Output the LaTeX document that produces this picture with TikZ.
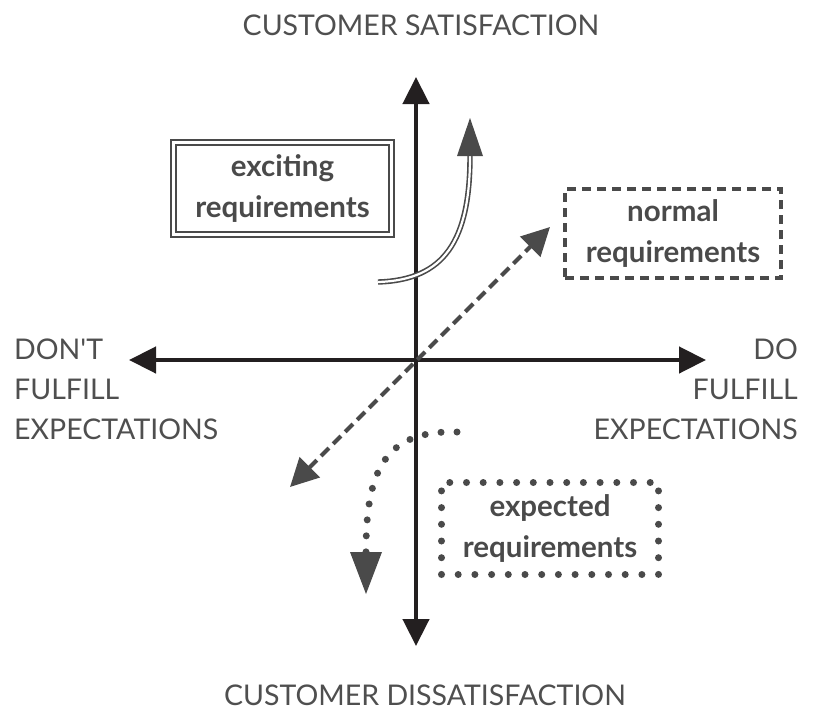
\documentclass[tikz,border=0pt]{standalone}
\usepackage{fontspec}
\setmainfont{Lato}
\usetikzlibrary{arrows.meta}
\definecolor{axiscol}{HTML}{231F20}
\definecolor{ink}{HTML}{4A4A4A}
\definecolor{txt}{HTML}{4F4F4F}
\begin{document}
\begin{tikzpicture}[x=1pt,y=-1pt,
  axisline/.style={draw=axiscol,line width=4.5pt,{Triangle[length=27pt,width=26pt]}-{Triangle[length=27pt,width=26pt]}},
  axislabel/.style={text=txt,font=\fontsize{28.5}{40}\selectfont,inner sep=0pt},
  boxtext/.style={text=ink,font=\bfseries\fontsize{29.5}{41}\selectfont,align=center},
  excitebox/.style={draw=ink,line width=2.2pt,double=white,double distance=2.5pt,minimum width=218pt,minimum height=92pt,boxtext},
  normalbox/.style={draw=ink,line width=4pt,dash pattern=on 9pt off 6pt,minimum width=216pt,minimum height=89pt,boxtext},
  expectbox/.style={draw=ink,line width=7pt,line cap=round,dash pattern=on 0pt off 16.7pt,minimum width=217pt,minimum height=92pt,boxtext},
]
\useasboundingbox (0,0) rectangle (817,718);
\coordinate (O) at (416,360);
\coordinate (top) at (416,77);
\coordinate (bot) at (416,646);
\coordinate (lft) at (129,360);
\coordinate (rgt) at (706,360);
\draw[axisline] (bot) -- (top);
\draw[axisline] (lft) -- (rgt);

\node[axislabel] (sat) at (421,25) {CUSTOMER SATISFACTION};
\node[axislabel] (dis) at (425,695) {CUSTOMER DISSATISFACTION};
\node[axislabel,align=left,anchor=north west] (dont) at (14,339) {DON\textquotesingle T\\FULFILL\\EXPECTATIONS};
\node[axislabel,align=right,anchor=north east] (do) at (798,339) {DO\\FULFILL\\EXPECTATIONS};

\node[excitebox] (exc) at (282.5,188.5) {exciting\\requirements};
\node[normalbox] (nor) at (673,233.5) {normal\\requirements};
\node[expectbox] (exp) at (550,528.5) {expected\\requirements};

% exciting curve (double line)
\coordinate (e0) at (378,282);
\coordinate (e1) at (470,156);
\coordinate (e2) at (470,118);
\draw[draw=ink,line width=1.6pt,double=white,double distance=2.2pt] (e0) .. controls (445,280) and (470,240) .. (e1);
\fill[ink] (e2) -- (457,156) -- (483,156) -- cycle;

% normal dashed double arrow
\coordinate (n0) at (290,487);
\coordinate (n1) at (550,227);
\draw[draw=ink,line width=4pt,dash pattern=on 11pt off 6pt,{Triangle[length=28pt,width=28pt]}-{Triangle[length=28pt,width=28pt]}] (n0) -- (n1);

% expected dotted curve
\coordinate (d0) at (457,432);
\coordinate (d1) at (366,552);
\coordinate (d2) at (366,594);
\draw[draw=ink,line width=7pt,line cap=round,dash pattern=on 0pt off 16pt] (d0) .. controls (385,430) and (366,470) .. (d1);
\fill[ink] (d2) -- (350,552) -- (382,552) -- cycle;
\end{tikzpicture}
\end{document}
